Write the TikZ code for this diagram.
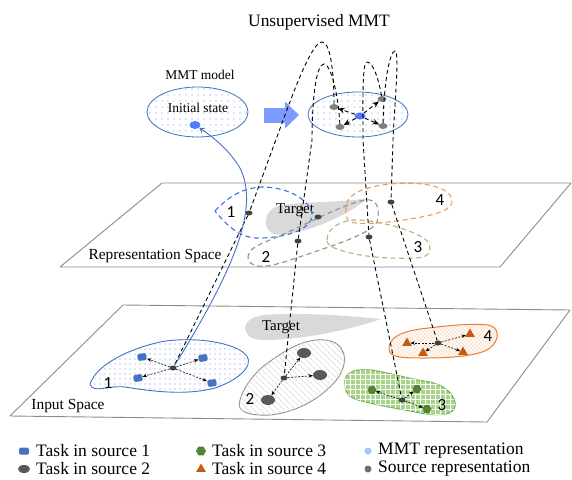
\documentclass[tikz,border=0pt]{standalone}
\usepackage{fontspec}
\setmainfont{Liberation Serif}
\newfontfamily\numfont{Carlito}
\usetikzlibrary{arrows.meta,shapes.geometric,patterns,patterns.meta}
\definecolor{bluec}{HTML}{4472C4}
\definecolor{mmtblue}{HTML}{4F7BFF}
\definecolor{arrowblue}{HTML}{7B9BFF}
\definecolor{dotblue}{HTML}{6A8FE8}
\definecolor{planegray}{HTML}{8C8C8C}
\definecolor{targetgray}{HTML}{D9D9D9}
\definecolor{darkdot}{HTML}{404040}
\definecolor{taskgray}{HTML}{595959}
\definecolor{topgray}{HTML}{7F7F7F}
\definecolor{greenline}{HTML}{70AD47}
\definecolor{greenfill}{HTML}{A9D48C}
\definecolor{greenhex}{HTML}{548235}
\definecolor{orangeline}{HTML}{ED7D31}
\definecolor{orangefill}{HTML}{FCE6D4}
\definecolor{browntri}{HTML}{C55A11}
\definecolor{repgray}{HTML}{8F8F8F}
\definecolor{repgreen}{HTML}{93C47D}
\definecolor{reporange}{HTML}{F09A5A}
\definecolor{repblue}{HTML}{3A6FE0}
\definecolor{legblue}{HTML}{A4C2F4}
\definecolor{leggray}{HTML}{6E6E6E}
\definecolor{hatchgray}{HTML}{E0E0E0}
\newcommand\regionfourpath{(389,350) .. controls (388,338) and (400,332) .. (420,329)
   .. controls (445,326) and (470,323) .. (488,325)
   .. controls (500,327) and (500,340) .. (490,348)
   .. controls (480,356) and (450,358) .. (425,358)
   .. controls (405,358) and (390,358) .. (389,350) -- cycle}
\begin{document}
\begin{tikzpicture}[x=1pt,y=-1pt,
  planebox/.style={draw=planegray,line width=0.9pt,fill=white,line join=round},
  planelabel/.style={font=\fontsize{15.4}{18}\selectfont,inner sep=0pt},
  smalllabel/.style={font=\fontsize{13.5}{16}\selectfont,inner sep=0pt},
  targetlabel/.style={font=\fontsize{15}{18}\selectfont,inner sep=0pt},
  numlabel/.style={font=\numfont\fontsize{17}{20}\selectfont,inner sep=0pt},
  legtext/.style={font=\fontsize{17.5}{20}\selectfont,inner sep=0pt,anchor=west},
  sdot/.style={ellipse,fill=darkdot,inner sep=0pt,minimum width=7pt,minimum height=5pt},
  topdot/.style={ellipse,fill=topgray,inner sep=0pt,minimum width=9pt,minimum height=6pt},
  bluesq/.style={rectangle,rounded corners=1.5pt,fill=bluec,inner sep=0pt,minimum width=9pt,minimum height=7pt,rotate=8},
  grayov/.style={ellipse,fill=taskgray,inner sep=0pt,minimum width=14pt,minimum height=10pt},
  hex/.style={regular polygon,regular polygon sides=6,fill=greenhex,inner sep=0pt,minimum size=9pt},
  tri/.style={regular polygon,regular polygon sides=3,fill=browntri,inner sep=0pt,minimum size=11pt},
  loopline/.style={draw=black,line width=0.9pt,dash pattern=on 4pt off 3pt},
  toparrow/.style={draw=black,line width=0.9pt,dash pattern=on 4pt off 3pt,-{Stealth[length=6.5pt,width=5.5pt]}},
  taskarrow/.style={draw=black,line width=0.6pt,dash pattern=on 2pt off 1.5pt,-{Stealth[length=4.5pt,width=3.5pt]}},
  repregion/.style={line width=1.1pt,dash pattern=on 5pt off 3.5pt},
]
\useasboundingbox (0,0) rectangle (572,479);

% ---------- planes ----------
\draw[planebox] (162,183) -- (571,183) -- (500,267) -- (60,267) -- cycle;
\draw[planebox] (123,305) -- (570,310) -- (487,422) -- (10,416) -- cycle;
\node[planelabel] (rsl) at (155,256) {Representation Space};
\node[planelabel] (isl) at (68,406) {Input Space};

% ---------- title and MMT model ----------
\node[font=\fontsize{17.4}{20}\selectfont,inner sep=0pt] (title) at (319,22) {Unsupervised MMT};
\node[smalllabel] (mlab) at (200,75) {MMT model};
\node[ellipse,draw=bluec,line width=0.8pt,pattern={Dots[distance=6pt,radius=0.6pt]},pattern color=dotblue,
      minimum width=101pt,minimum height=50pt,inner sep=0pt] (mmtL) at (197.5,112) {};
\node[smalllabel] (ilab) at (198,108) {Initial state};
\node[ellipse,fill=mmtblue,inner sep=0pt,minimum width=11pt,minimum height=8pt] (init) at (195,125) {};

\node[ellipse,draw=bluec,line width=0.8pt,pattern={Dots[distance=6pt,radius=0.6pt]},pattern color=dotblue,
      minimum width=100pt,minimum height=45pt,inner sep=0pt] (mmtR) at (358,114.5) {};
\coordinate (arrS) at (264,115);
\coordinate (arrE) at (299,115);
\draw[arrowblue,line width=15pt,-{Triangle[length=14pt,width=26pt]}] (arrS) -- (arrE);

\node[ellipse,fill=mmtblue,inner sep=0pt,minimum width=11pt,minimum height=7pt] (cen) at (360,116) {};
\node[topdot] (tl) at (334,107) {};
\node[topdot] (bl) at (340,127) {};
\node[topdot] (tr) at (382,99) {};
\node[topdot] (br) at (383,126) {};
\draw[toparrow] (cen) -- (tl);
\draw[toparrow] (cen) -- (bl);
\draw[toparrow] (cen) -- (tr);
\draw[toparrow] (cen) -- (br);

% ---------- representation space ----------
\fill[targetgray] (272,233) .. controls (262,228) and (264,210) .. (278,206)
   .. controls (305,201) and (340,203) .. (368,198)
   .. controls (350,214) and (312,231) .. (286,234)
   .. controls (280,235) and (275,235) .. (272,233) -- cycle;
\node[targetlabel] (rtgt) at (295,210) {Target};

\draw[repregion,draw=repblue] (215,211) .. controls (228,197) and (242,188) .. (262,187)
   .. controls (288,187) and (310,200) .. (312,214)
   .. controls (313,228) and (290,237) .. (262,238)
   .. controls (245,239) and (232,232) .. (215,211) -- cycle;
\draw[repregion,draw=repgray] (248,258) .. controls (248,250) and (255,246) .. (270,240)
   .. controls (300,228) and (340,205) .. (365,200)
   .. controls (378,198) and (380,210) .. (377,222)
   .. controls (374,230) and (350,240) .. (320,250)
   .. controls (290,260) and (270,268) .. (258,266)
   .. controls (252,265) and (248,262) .. (248,258) -- cycle;
\draw[repregion,draw=repgreen] (327,240) .. controls (327,226) and (345,219) .. (360,220)
   .. controls (385,222) and (420,232) .. (428,242)
   .. controls (433,252) and (428,258) .. (415,258)
   .. controls (390,259) and (360,257) .. (340,250)
   .. controls (330,247) and (327,244) .. (327,240) -- cycle;
\draw[repregion,draw=reporange] (346,212) .. controls (343,195) and (362,187) .. (390,184)
   .. controls (420,181) and (450,186) .. (452,200)
   .. controls (454,210) and (435,215) .. (410,219)
   .. controls (385,223) and (360,225) .. (350,222)
   .. controls (347,220) and (346,216) .. (346,212) -- cycle;

\node[numlabel] (rn1) at (231,212) {1};
\node[numlabel] (rn2) at (266,257) {2};
\node[numlabel] (rn3) at (418,247) {3};
\node[numlabel] (rn4) at (440,200) {4};

\node[sdot] (r1) at (249,213) {};
\node[sdot] (rt) at (318,217) {};
\node[sdot] (r2) at (298,241) {};
\node[sdot] (r3) at (369,237) {};
\node[sdot] (r4) at (391,202) {};

% ---------- input space ----------
\fill[targetgray] (248,335) .. controls (240,325) and (250,316) .. (265,315)
   .. controls (300,312) and (350,316) .. (381,319)
   .. controls (350,330) and (300,340) .. (265,340)
   .. controls (255,340) and (250,338) .. (248,335) -- cycle;
\node[targetlabel] (itgt) at (281,327) {Target};

% region 1
\draw[draw=bluec,line width=0.9pt,pattern={Dots[distance=5pt,radius=0.55pt]},pattern color=dotblue]
   (90,384) .. controls (96,366) and (125,350) .. (160,342)
   .. controls (192,336) and (236,342) .. (247,356)
   .. controls (254,367) and (236,381) .. (215,388)
   .. controls (185,396) and (150,391) .. (125,387)
   .. controls (108,385) and (93,394) .. (90,384) -- cycle;
% region 2
\draw[draw=repgray,line width=0.9pt,fill=white,postaction={pattern={Lines[angle=-45,distance=4pt,line width=1pt]},pattern color=hatchgray}]
   (240,400) .. controls (235,412) and (250,416) .. (270,415)
   .. controls (300,412) and (325,395) .. (338,378)
   .. controls (350,360) and (345,342) .. (325,340)
   .. controls (305,338) and (285,350) .. (265,365)
   .. controls (250,377) and (243,390) .. (240,400) -- cycle;
% region 3
\draw[draw=greenline,line width=0.9pt,fill=greenfill,postaction={pattern={Hatch[angle=0,distance=5pt,line width=1pt]},pattern color=white}]
   (345,385) .. controls (343,372) and (355,368) .. (372,370)
   .. controls (390,373) and (410,379) .. (430,382)
   .. controls (448,386) and (457,398) .. (455,407)
   .. controls (453,416) and (437,416) .. (420,413)
   .. controls (400,409) and (375,405) .. (358,400)
   .. controls (348,397) and (345,392) .. (345,385) -- cycle;
% region 4 (pale orange with fine white cross-hatch)
\begin{scope}
  \clip \regionfourpath;
  \fill[orangefill] (380,315) rectangle (505,365);
  \foreach \i in {0,4,...,160} {
    \draw[white,line width=0.6pt] (340+\i,365) -- (390+\i,315);
    \draw[white,line width=0.6pt] (340+\i,315) -- (390+\i,365);
  }
\end{scope}
\draw[draw=orangeline,line width=1pt] \regionfourpath;

\node[numlabel] (in1l) at (108,383) {1};
\node[numlabel] (in2l) at (250,399) {2};
\node[numlabel] (in3l) at (442,405) {3};
\node[numlabel] (in4l) at (488,336) {4};

\node[bluesq] (q1) at (142,357) {};
\node[bluesq] (q2) at (203,358) {};
\node[bluesq] (q3) at (138,378) {};
\node[bluesq] (q4) at (212,383) {};
\node[grayov] (g1) at (304,353) {};
\node[grayov] (g2) at (320,375) {};
\node[grayov] (g3) at (268,400) {};
\node[hex] (h1) at (372,390) {};
\node[hex] (h2) at (417,389) {};
\node[hex] (h3) at (427,409) {};
\node[tri] (t1) at (407,343) {};
\node[tri] (t2) at (470,334) {};
\node[tri] (t3) at (423,353) {};
\node[tri] (t4) at (463,352) {};

\node[sdot] (in1) at (173,368) {};
\node[sdot] (in2) at (284,378) {};
\node[sdot] (in3) at (402,400) {};
\node[sdot] (in4) at (438,343) {};

\foreach \t in {q1,q2,q3,q4} \draw[taskarrow] (in1) -- (\t);
\foreach \t in {g1,g2,g3} \draw[taskarrow] (in2) -- (\t);
\foreach \t in {h1,h2,h3} \draw[taskarrow] (in3) -- (\t);
\foreach \t in {t1,t2,t3,t4} \draw[taskarrow] (in4) -- (\t);

% ---------- long dashed connectors ----------
\draw[loopline] (tl) .. controls (334,70) and (330,42) .. (322,42)
   .. controls (313,42) and (298,80) .. (285,115) -- (r1) -- (in1);
\draw[loopline] (bl) .. controls (338,90) and (330,64) .. (324,64)
   .. controls (316,64) and (312,100) .. (312,140) -- (r2) -- (in2);
\draw[loopline] (tr) .. controls (378,75) and (372,62) .. (367,62)
   .. controls (362,62) and (363,100) .. (363,140) -- (r3) -- (in3);
\draw[loopline] (br) .. controls (384,80) and (390,51) .. (395,51)
   .. controls (400,51) and (394,110) .. (393,140) -- (r4) -- (in4);

% blue curve to initial state
\draw[bluec,line width=0.9pt,-{Straight Barb[length=4pt,width=5pt]}] (in1) .. controls (240,260) and (258,205) .. (240,168)
   .. controls (228,148) and (210,135) .. (init);

% ---------- legend ----------
\node[rectangle,rounded corners=1.5pt,fill=bluec,inner sep=0pt,minimum width=10pt,minimum height=7pt] (L1) at (24,451) {};
\node[ellipse,fill=taskgray,inner sep=0pt,minimum width=12pt,minimum height=8pt] (L2) at (24,469) {};
\node[regular polygon,regular polygon sides=6,fill=greenhex,inner sep=0pt,minimum size=10pt] (L3) at (201,451) {};
\node[regular polygon,regular polygon sides=3,fill=browntri,inner sep=0pt,minimum size=11pt] (L4) at (201,469) {};
\node[circle,fill=legblue,inner sep=0pt,minimum size=7pt] (L5) at (368,451) {};
\node[circle,fill=leggray,inner sep=0pt,minimum size=7pt] (L6) at (368,469) {};
\node[legtext] (T1) at (36,451) {Task in source 1};
\node[legtext] (T2) at (36,469) {Task in source 2};
\node[legtext] (T3) at (212,451) {Task in source 3};
\node[legtext] (T4) at (212,469) {Task in source 4};
\node[legtext] (T5) at (378,451) {MMT representation};
\node[legtext] (T6) at (378,469) {Source representation};
\end{tikzpicture}
\end{document}
